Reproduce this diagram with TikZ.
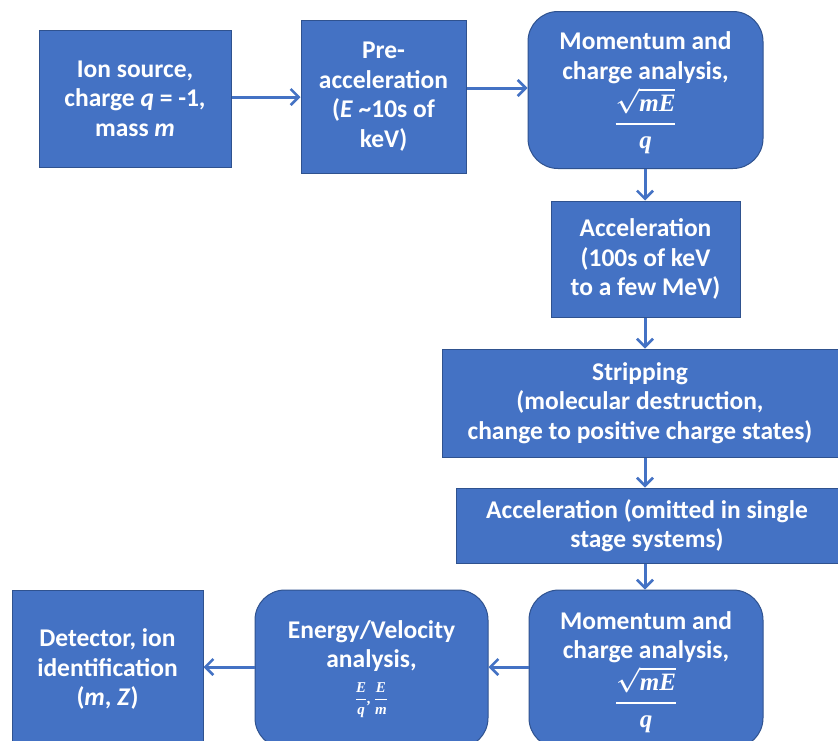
\documentclass[tikz,border=0pt]{standalone}
\usepackage{amsmath}
\usepackage{fontspec}
\setmainfont{Carlito}
\newfontfamily\mfont{Liberation Serif}
\usetikzlibrary{arrows.meta}
\definecolor{boxblue}{HTML}{4472C4}
\definecolor{edgeblue}{HTML}{2F528F}
\newcommand{\mv}[1]{\text{\mfont\bfseries\itshape #1}}
\newcommand{\bigfrac}{{\fontsize{25}{25}\selectfont\boldmath$\displaystyle\genfrac{}{}{1.8pt}{}{\sqrt{\mv{mE}}}{\mv{q}}$}}
\newcommand{\smallfracs}{{\fontsize{15}{15}\selectfont\boldmath$\displaystyle\genfrac{}{}{1.1pt}{}{\mv{E}}{\mv{q}}\mv{,}\,\genfrac{}{}{1.1pt}{}{\mv{E}}{\mv{m}}$}}
\tikzset{
  blk/.style={draw=edgeblue, line width=1pt, fill=boxblue, text=white, align=center,
    inner sep=0pt, font=\fontsize{25.5}{29.5}\selectfont\bfseries},
  rblk/.style={blk, rounded corners=30pt},
  flow/.style={draw=boxblue, line width=3pt, -{Straight Barb[length=8pt,width=16pt,line width=2.6pt]}}
}
\begin{document}
\begin{tikzpicture}[x=1pt,y=-1pt]
\useasboundingbox (0,0) rectangle (838,740);
\clip (0,0) rectangle (838,740);
\fill[white] (0,0) rectangle (838,740);
\node[blk, minimum width=192pt, minimum height=137pt] (src) at (135,98.5)
  {Ion source,\\charge \textit{q} = -1,\\mass \textit{m}};
\node[blk, minimum width=165pt, minimum height=153pt] (pre) at (383.5,96.5)
  {Pre-\\acceleration\\(\textit{E} \textasciitilde10s of\\keV)};
\node[rblk, minimum width=235pt, minimum height=157pt] (mom1) at (645.5,90)
  {\rule{0pt}{24pt}Momentum and\\charge analysis,\\[3pt]\bigfrac};
\node[blk, minimum width=189pt, minimum height=116pt] (acc1) at (645.5,259)
  {Acceleration\\(100s of keV\\to a few MeV)};
\node[blk, minimum width=396pt, minimum height=108pt] (strip) at (640,403)
  {Stripping\\(molecular destruction,\\change to positive charge states)};
\node[blk, minimum width=382pt, minimum height=75pt] (acc2) at (647,525.5)
  {Acceleration (omitted in single\\stage systems)};
\node[rblk, minimum width=234pt, minimum height=158pt] (mom2) at (646,669)
  {\rule{0pt}{24pt}Momentum and\\charge analysis,\\[3pt]\bigfrac};
\node[rblk, minimum width=233pt, minimum height=158pt] (ev) at (371.5,669)
  {Energy/Velocity\\analysis,\\[6pt]\smallfracs};
\node[blk, minimum width=191pt, minimum height=158pt] (det) at (107.5,669)
  {Detector, ion\\identification\\(\textit{m}, \textit{Z})};
\draw[flow] (src.east |- 0,97) -- (pre.west |- 0,97);
\draw[flow] (pre.east |- 0,88) -- (mom1.west |- 0,88);
\draw[flow] (mom1.south -| 645,0) -- (acc1.north -| 645,0);
\draw[flow] (acc1.south -| 645,0) -- (strip.north -| 645,0);
\draw[flow] (strip.south -| 645,0) -- (acc2.north -| 645,0);
\draw[flow] (acc2.south -| 645,0) -- (mom2.north -| 645,0);
\draw[flow] (mom2.west |- 0,667) -- (ev.east |- 0,667);
\draw[flow] (ev.west |- 0,667) -- (det.east |- 0,667);
\end{tikzpicture}
\end{document}
